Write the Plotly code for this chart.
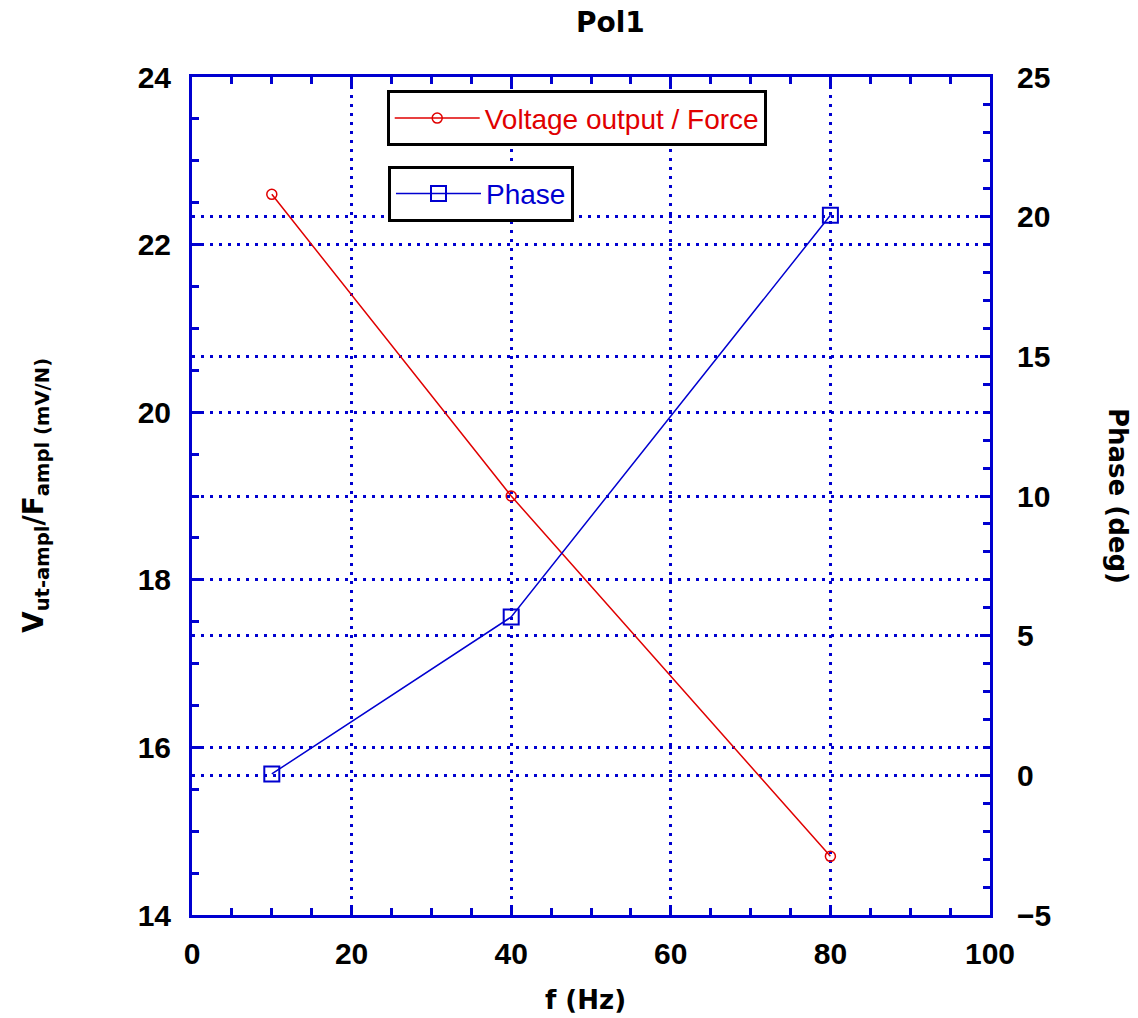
import plotly.graph_objects as go

freq = [10, 40, 80]
voltage_force = [22.6, 19.0, 14.7]
phase_deg = [0.05, 5.67, 20.05]

RED = "#e00000"
BLUE = "#0000d0"
FONT = "Liberation Sans"
BOLD = "DejaVu Sans"

fig = go.Figure()
fig.add_trace(go.Scatter(
    x=freq, y=voltage_force, mode="lines+markers", name="Voltage output / Force",
    line=dict(color=RED, width=1.5),
    marker=dict(symbol="circle-open", size=10, color=RED, line=dict(width=1.5)),
    legend="legend", yaxis="y"))
fig.add_trace(go.Scatter(
    x=freq, y=phase_deg, mode="lines+markers", name="Phase",
    line=dict(color=BLUE, width=1.5),
    marker=dict(symbol="square-open", size=15, color=BLUE, line=dict(width=2)),
    legend="legend2", yaxis="y2"))

tickfont = dict(family=FONT, size=30, color="black", weight="bold")
axis_common = dict(
    showline=True, linecolor=BLUE, linewidth=3,
    ticks="inside", ticklen=10, tickwidth=3, tickcolor=BLUE,
    showgrid=True, gridcolor=BLUE, gridwidth=3, griddash="3px,6px",
    zeroline=False, tickfont=tickfont,
)
minor_common = dict(ticks="inside", ticklen=7, tickwidth=3, tickcolor=BLUE, showgrid=False)

fig.update_layout(
    width=1138, height=1018,
    margin=dict(l=192, r=148, t=77, b=103),
    paper_bgcolor="white", plot_bgcolor="white",
    showlegend=True,
    xaxis=dict(range=[0, 100], dtick=20, tick0=0, mirror="ticks", ticklabelstandoff=10,
               minor=dict(dtick=5, **minor_common), **axis_common),
    yaxis=dict(range=[14, 24], dtick=2, tick0=14, ticklabelstandoff=12,
               minor=dict(dtick=0.5, **minor_common), **axis_common),
    yaxis2=dict(range=[-5, 25], dtick=5, tick0=-5, overlaying="y", side="right",
                ticklabelstandoff=18,
                minor=dict(dtick=1, **minor_common), **axis_common),
    legend=dict(x=0.244, y=0.984, xanchor="left", yanchor="top", itemwidth=85,
                bgcolor="white", bordercolor="black", borderwidth=3,
                font=dict(family=FONT, size=28, color=RED)),
    legend2=dict(x=0.2456, y=0.894, xanchor="left", yanchor="top", itemwidth=85,
                 bgcolor="white", bordercolor="black", borderwidth=3,
                 font=dict(family=FONT, size=28, color=BLUE)),
    annotations=[
        dict(text="<b>Pol1</b>", xref="paper", yref="paper", x=0.524, y=1.0, yshift=55,
             xanchor="center", yanchor="middle",
             showarrow=False, font=dict(family=BOLD, size=28, color="black")),
        dict(text="<b>f (Hz)</b>", xref="paper", yref="paper", x=0.493, y=0, yshift=-85,
             xanchor="center", yanchor="middle",
             showarrow=False, font=dict(family=BOLD, size=26, color="black")),
        dict(text="<b>V<sub>ut-ampl</sub>/F<sub>ampl (mV/N)</sub></b>", xref="paper", yref="paper",
             x=0, xshift=-157, y=0.5, xanchor="center", yanchor="middle",
             textangle=-90, showarrow=False,
             font=dict(family=BOLD, size=28, color="black")),
        dict(text="<b>Phase (deg)</b>", xref="paper", yref="paper",
             x=1, xshift=128, y=0.5, xanchor="center", yanchor="middle",
             textangle=90, showarrow=False,
             font=dict(family=BOLD, size=26, color="black")),
    ],
)

fig.write_html("out.html")
